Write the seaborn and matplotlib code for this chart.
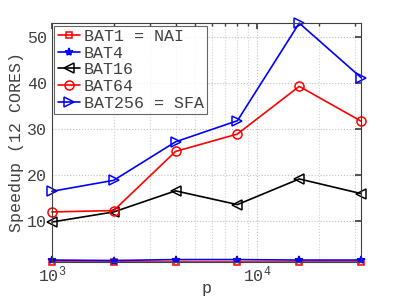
import matplotlib
matplotlib.use("Agg")
import matplotlib.pyplot as plt
import seaborn as sns
import pandas as pd
import numpy as np
from matplotlib.ticker import LogLocator, NullFormatter

sns.set_theme(style="white")
plt.rcParams['font.family'] = ['Liberation Mono', 'DejaVu Sans Mono']

p = [1000, 2000, 4000, 8000, 16000, 32000]
bat1 = [1.0, 1.0, 1.0, 1.0, 1.0, 1.0]
bat4 = [1.4, 1.3, 1.5, 1.5, 1.4, 1.4]
bat16 = [9.7, 11.9, 16.5, 13.5, 19.1, 15.9]
bat64 = [11.9, 12.2, 25.1, 28.9, 39.3, 31.7]
bat256 = [16.4, 18.8, 27.2, 31.8, 53.1, 41.2]

labels = ["BAT1 = NAI", "BAT4", "BAT16", "BAT64", "BAT256 = SFA"]
series = [bat1, bat4, bat16, bat64, bat256]
colors = ["#ff0000", "#0000ff", "#000000", "#ff0000", "#0000ff"]
markers = ["s", "*", "<", "o", ">"]
msizes = [5, 6, 7, 6.5, 7]

fig = plt.figure(figsize=(3.99, 3.0), dpi=100)
ax = fig.add_axes([0.130, 0.127, 0.775, 0.796])

for lab, vals, c, m, ms in zip(labels, series, colors, markers, msizes):
    df = pd.DataFrame({"p": p, "v": vals})
    sns.lineplot(data=df, x="p", y="v", ax=ax, color=c, marker=m, markersize=ms,
                 markerfacecolor="none" if m != "*" else c, markeredgecolor=c,
                 markeredgewidth=1.1, linewidth=1.2, label=lab, clip_on=False)

ax.set_xscale("log")
ax.set_xlim(1000, 32000)
ax.set_ylim(1.0, 53.1)
ax.set_yticks([10, 20, 30, 40, 50])
ax.xaxis.set_major_locator(LogLocator(base=10))
ax.xaxis.set_minor_locator(LogLocator(base=10, subs=np.arange(2, 10)))
ax.xaxis.set_minor_formatter(NullFormatter())

grey = "#404040"
ax.grid(True, which="major", linestyle=":", color="#c0c0c0", linewidth=0.8)
ax.grid(True, which="minor", axis="x", linestyle=":", color="#d0d0d0", linewidth=0.8)
ax.tick_params(which="both", direction="in", top=True, right=True, colors=grey,
               labelsize=12, length=4)
ax.tick_params(axis="x", pad=2)
ax.tick_params(which="minor", length=2)
for s in ax.spines.values():
    s.set_color(grey)
    s.set_linewidth(0.8)

ax.set_xlabel("p", fontsize=12, color=grey, labelpad=-3)
ax.set_ylabel("Speedup (12 CORES)", fontsize=12, color=grey, labelpad=2)

leg = ax.legend(loc="upper left", fontsize=12, frameon=True, fancybox=False,
                borderaxespad=0.15, handlelength=1.35, handletextpad=0.2,
                labelspacing=0.1, borderpad=0.2)
leg.get_frame().set_edgecolor(grey)
leg.get_frame().set_linewidth(0.8)
for t in leg.get_texts():
    t.set_color(grey)

fig.savefig("out.png", dpi=100)
